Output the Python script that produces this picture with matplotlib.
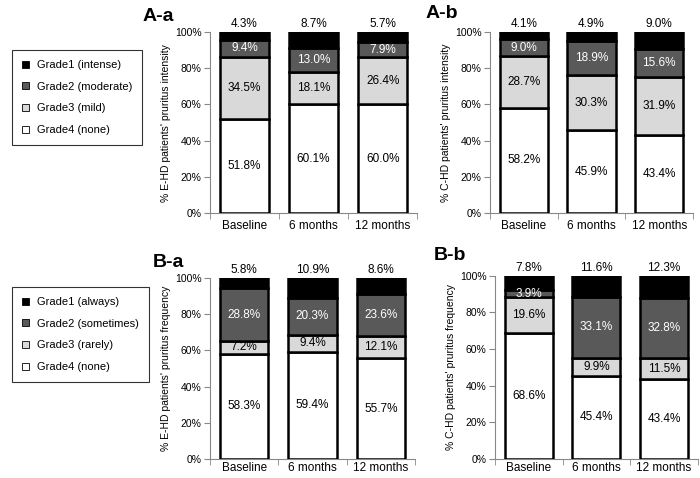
import matplotlib
matplotlib.use('Agg')
import matplotlib.pyplot as plt
from matplotlib.patches import Patch
import numpy as np

cats = ['Baseline', '6 months', '12 months']

# A-a: E-HD intensity
aa_g4 = [51.8, 60.1, 60.0]
aa_g3 = [34.5, 18.1, 26.4]
aa_g2 = [9.4, 13.0, 7.9]
aa_g1 = [4.3, 8.7, 5.7]
# A-b: C-HD intensity
ab_g4 = [58.2, 45.9, 43.4]
ab_g3 = [28.7, 30.3, 31.9]
ab_g2 = [9.0, 18.9, 15.6]
ab_g1 = [4.1, 4.9, 9.0]
# B-a: E-HD frequency
ba_g4 = [58.3, 59.4, 55.7]
ba_g3 = [7.2, 9.4, 12.1]
ba_g2 = [28.8, 20.3, 23.6]
ba_g1 = [5.8, 10.9, 8.6]
# B-b: C-HD frequency
bb_g4 = [68.6, 45.4, 43.4]
bb_g3 = [19.6, 9.9, 11.5]
bb_g2 = [3.9, 33.1, 32.8]
bb_g1 = [7.8, 11.6, 12.3]

labels_int = ['Grade1 (intense)', 'Grade2 (moderate)', 'Grade3 (mild)', 'Grade4 (none)']
labels_freq = ['Grade1 (always)', 'Grade2 (sometimes)', 'Grade3 (rarely)', 'Grade4 (none)']

colors = ['white', '#d9d9d9', '#595959', 'black']   # g4, g3, g2, g1
txtcol = ['black', 'black', 'white', 'black']

plt.rcParams['font.family'] = ['Liberation Sans', 'DejaVu Sans']

fig = plt.figure(figsize=(7, 4.78), dpi=100)


def panel(rect, series, ylabel, title, tpos, xpad):
    ax = fig.add_axes(rect)
    x = np.arange(len(cats))
    bottom = np.zeros(len(cats))
    for i, vals in enumerate(series):
        vals = np.array(vals)
        ax.bar(x, vals, bottom=bottom, width=0.71, color=colors[i],
               edgecolor='black', linewidth=1.8, zorder=3)
        for j in range(len(cats)):
            if i == 3:
                ax.text(x[j], 101, '%.1f%%' % vals[j], ha='center', va='bottom',
                        fontsize=8.5, color='black')
            else:
                ax.text(x[j], bottom[j] + vals[j] / 2, '%.1f%%' % vals[j],
                        ha='center', va='center', fontsize=8.5, color=txtcol[i], zorder=4)
        bottom = bottom + vals
    ax.set_xlim(-0.5, 2.5)
    ax.set_ylim(0, 100)
    ax.set_yticks([0, 20, 40, 60, 80, 100])
    ax.set_yticklabels(['%d%%' % v for v in [0, 20, 40, 60, 80, 100]], fontsize=7.5)
    ax.set_xticks(x)
    ax.set_xticklabels(cats, fontsize=8.5)
    ax.set_xticks([-0.5, 0.5, 1.5, 2.5], minor=True)
    ax.tick_params(axis='x', which='major', length=0, pad=xpad)
    ax.tick_params(axis='x', which='minor', length=4, color='#888888')
    ax.tick_params(axis='y', length=4, color='#888888', pad=2)
    for s in ['top', 'right']:
        ax.spines[s].set_visible(False)
    for s in ['left', 'bottom']:
        ax.spines[s].set_color('#888888')
    ax.set_ylabel(ylabel, fontsize=7.5, labelpad=3)
    fig.text(tpos[0], tpos[1], title, fontsize=14, fontweight='bold', ha='center', va='center')
    return ax


panel([0.300, 0.554, 0.296, 0.379], [aa_g4, aa_g3, aa_g2, aa_g1],
      "% E-HD patients' pruritus intensity", 'A-a', (0.226, 0.966), 5)
panel([0.700, 0.554, 0.290, 0.379], [ab_g4, ab_g3, ab_g2, ab_g1],
      "% C-HD patients' pruritus intensity", 'A-b', (0.631, 0.972), 5)
panel([0.300, 0.040, 0.293, 0.378], [ba_g4, ba_g3, ba_g2, ba_g1],
      "% E-HD patients' pruritus frequency", 'B-a', (0.241, 0.450), 2)
panel([0.707, 0.040, 0.290, 0.383], [bb_g4, bb_g3, bb_g2, bb_g1],
      "% C-HD patients' pruritus frequency", 'B-b', (0.643, 0.465), 2)


def legend(labels, y):
    handles = [Patch(facecolor=colors[3 - i], edgecolor='black', linewidth=0.6) for i in range(4)]
    lg = fig.legend(handles, labels, loc='upper left', bbox_to_anchor=(12 / 700, y),
                    fontsize=8, frameon=True, fancybox=False, edgecolor='black',
                    handlelength=0.6, handleheight=0.6, labelspacing=1.05,
                    handletextpad=0.75, borderpad=0.9, borderaxespad=0)
    lg.get_frame().set_linewidth(0.8)


legend(labels_int, 1 - 50 / 478)
legend(labels_freq, 1 - 287 / 478)

fig.savefig('out.png', dpi=100)
